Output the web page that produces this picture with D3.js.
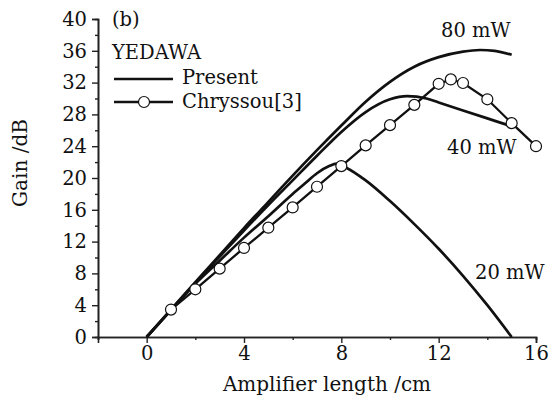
<!DOCTYPE html>
<html>
<head>
<meta charset="utf-8">
<script src="https://cdn.jsdelivr.net/npm/d3@7"></script>
<style>
  body { margin: 0; background: #fff; }
  text { font-family: "DejaVu Serif", serif; fill: #111; }
</style>
</head>
<body>
<div class="canva"></div>
<script>
// data
const x20 = [0, 1, 2, 3, 4, 5, 6, 6.5, 7, 7.5, 7.8, 8.2, 9, 10, 11, 12, 13, 14, 15];
const g20 = [0, 3.4, 6.7, 9.6, 12.5, 15.2, 18.0, 19.3, 20.6, 21.5, 21.8, 21.3, 19.7, 17.1, 14.2, 11.1, 7.7, 4.0, 0];

const x40 = [0, 1, 2, 3, 4, 5, 6, 7, 8, 9, 10, 10.7, 11.5, 12, 13, 14, 15];
const g40 = [0, 3.4, 6.8, 10.1, 13.4, 16.6, 19.7, 22.8, 25.8, 28.3, 29.9, 30.3, 30.0, 29.5, 28.5, 27.5, 26.5];

const x80 = [0, 1, 2, 3, 4, 5, 6, 7, 8, 9, 10, 11, 12, 13, 13.7, 14.3, 15];
const g80 = [0, 3.45, 6.9, 10.3, 13.7, 17.0, 20.3, 23.5, 26.6, 29.6, 32.1, 34.0, 35.2, 35.9, 36.1, 36.0, 35.5];

const xChry = [1, 2, 3, 4, 5, 6, 7, 8, 9, 10, 11, 12, 12.5, 13, 14, 15, 16];
const gChry = [3.45, 6.0, 8.6, 11.2, 13.75, 16.3, 18.9, 21.5, 24.1, 26.65, 29.2, 31.85, 32.4, 31.95, 29.9, 26.9, 24.0];

const xTicks = [0, 4, 8, 12, 16];
const yTicks = [0, 4, 8, 12, 16, 20, 24, 28, 32, 36, 40];

const curveLabels = ["80 mW", "40 mW", "20 mW"];

const svg = d3.select(".canva").append("svg")
              .attr("width", 553)
              .attr("height", 398);

const x = d3.scaleLinear().domain([-2, 16]).range([98, 536]);
const y = d3.scaleLinear().domain([0, 40]).range([337, 19]);

const fs = "19.5px";

//Axes
const xAxis = d3.axisBottom(x).tickValues(xTicks).tickSize(6).tickPadding(3).tickFormat(d3.format("d"));
const xMinor = d3.axisBottom(x).tickValues([-2, 2, 6, 10, 14]).tickSize(3).tickFormat("");
const yAxis = d3.axisLeft(y).tickValues(yTicks).tickSize(6).tickPadding(5).tickFormat(d3.format("d"));
const yMinor = d3.axisLeft(y).tickValues([2, 6, 10, 14, 18, 22, 26, 30, 34, 38]).tickSize(3).tickFormat("");

[svg.append("g").attr("transform", "translate(0,337)").call(xAxis),
 svg.append("g").attr("transform", "translate(0,337)").call(xMinor),
 svg.append("g").attr("transform", "translate(98,0)").call(yAxis),
 svg.append("g").attr("transform", "translate(98,0)").call(yMinor)].forEach(g => {
    g.selectAll("path").attr("stroke", "#222").attr("stroke-width", 1.6);
    g.selectAll("line").attr("stroke", "#222").attr("stroke-width", 1.4);
    g.selectAll("text").style("font-family", "DejaVu Serif").style("font-size", fs).attr("fill", "#111");
});

//Axis titles
svg.append("text").attr("x", 327).attr("y", 391).attr("text-anchor", "middle")
   .style("font-size", "20px").text("Amplifier length /cm");
svg.append("text").attr("transform", "translate(27,163) rotate(-90)").attr("text-anchor", "middle")
   .style("font-size", "20px").text("Gain /dB");

//Present lines
const line = d3.line().curve(d3.curveMonotoneX);
const series = [[x80, g80], [x40, g40], [x20, g20]];
series.forEach(s => {
    svg.append("path")
       .attr("d", line(s[0].map((d, i) => [x(d), y(s[1][i])])))
       .attr("fill", "none").attr("stroke", "#111").attr("stroke-width", 2.7);
});

//Chryssou line + circles
svg.append("path")
   .attr("d", d3.line()(xChry.map((d, i) => [x(d), y(gChry[i])])))
   .attr("fill", "none").attr("stroke", "#111").attr("stroke-width", 2.3);
svg.selectAll("circle.chry")
   .data(xChry)
   .enter()
   .append("circle")
   .attr("class", "chry")
   .attr("cx", d => x(d))
   .attr("cy", (d, i) => y(gChry[i]))
   .attr("r", 5.5)
   .attr("fill", "#fff").attr("stroke", "#111").attr("stroke-width", 1.2);

//Curve labels
svg.append("text").attr("x", 441).attr("y", 37).style("font-size", fs).text(curveLabels[0]);
svg.append("text").attr("x", 447).attr("y", 154).style("font-size", fs).text(curveLabels[1]);
svg.append("text").attr("x", 475).attr("y", 279).style("font-size", fs).text(curveLabels[2]);

//Legend
svg.append("text").attr("x", 112).attr("y", 26).style("font-size", fs).text("(b)");
svg.append("text").attr("x", 112).attr("y", 59).style("font-size", fs).text("YEDAWA");
svg.append("line").attr("x1", 114).attr("x2", 173).attr("y1", 79).attr("y2", 79)
   .attr("stroke", "#111").attr("stroke-width", 2.7);
svg.append("text").attr("x", 182).attr("y", 84).style("font-size", fs).text("Present");
svg.append("line").attr("x1", 114).attr("x2", 173).attr("y1", 102).attr("y2", 102)
   .attr("stroke", "#111").attr("stroke-width", 2.3);
svg.append("circle").attr("cx", 144).attr("cy", 102).attr("r", 5.5)
   .attr("fill", "#fff").attr("stroke", "#111").attr("stroke-width", 1.2);
svg.append("text").attr("x", 182).attr("y", 108).style("font-size", fs).text("Chryssou[3]");
</script>
</body>
</html>
